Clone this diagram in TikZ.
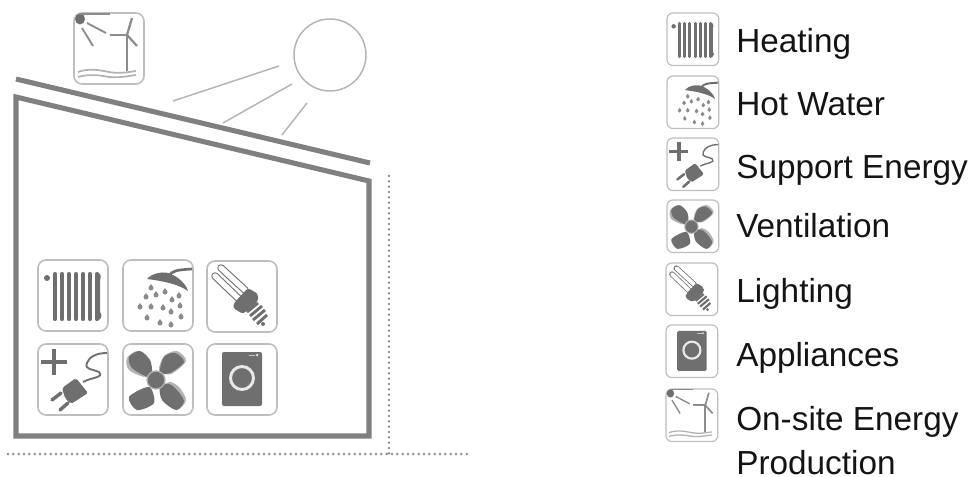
\documentclass[tikz,border=0pt]{standalone}
\usepackage{fontspec}
\setmainfont{Liberation Sans}
\definecolor{wall}{HTML}{808080}
\definecolor{ray}{HTML}{B4B4B4}
\definecolor{dots}{HTML}{8C8C8C}
\definecolor{frm}{HTML}{BEBEBE}
\definecolor{ink}{HTML}{6F6F6F}
\definecolor{inklight}{HTML}{B2B2B2}
\tikzset{
  wallline/.style={draw=wall,line width=3.8pt,line join=miter},
  rayline/.style={draw=ray,line width=1.1pt},
  dotline/.style={draw=dots,line width=2.1pt,line cap=round,dash pattern=on 0pt off 4pt},
  label/.style={anchor=base west,inner sep=0pt,text=black!92,font=\fontsize{25}{28}\selectfont},
  frame/.style={draw=frm,line width=\k*1.2pt,rounded corners=\k*6pt,fill=white},
  thick ink/.style={draw=ink,line width=\k*#1pt,line cap=butt},
  blade/.style={fill=ink,draw=none},
  ghost/.style={fill=inklight,draw=none},
}
\newcommand{\IconFrame}{\path[frame] (0,0) rectangle (70,71);}
\newcommand{\IconHeating}{%
  \IconFrame
  \fill[ink] (9,18) circle (3);
  \foreach \q in {17,24,31,38,45,52,59}{\draw[thick ink=3.1,line cap=round] (\q,14) -- (\q,59);}
  \fill[ink] (59,13) -- (61,13) .. controls (64,15) and (62,19) .. (62,21) -- (62,52) .. controls (64,54) and (64,58) .. (61,60) -- (59,60) -- cycle;
}
\newcommand{\IconShower}{%
  \IconFrame
  \draw[thick ink=2] (46,16) .. controls (49,11) and (52,10) .. (69,9);
  \fill[ink] (24,19) .. controls (29,13) and (42,10) .. (50,15) .. controls (56,18) and (63,24) .. (65,31) .. controls (55,24) and (40,21) .. (24,19) -- cycle;
  \foreach \a/\b in {28/28,42/32,56/36,23/37,33/35,49/40,17/47,28/47,40/48,57/46,48/52,24/58,37/63,58/57,48/65}{
    \fill[ink!80] (\a,\b) circle (2.5);
    \fill[ink!80] (\a-2.3,\b-0.8) -- (\a,\b-4) -- (\a+2.3,\b-0.8) -- cycle;}
}
\newcommand{\IconLamp}{%
  \IconFrame
  \draw[draw=ink,line width=\k*5.6pt,line cap=round] (14,7) -- (38,29);
  \draw[draw=white,line width=\k*4pt,line cap=round] (14,7) -- (38,29);
  \draw[draw=ink,line width=\k*5.6pt,line cap=round] (8,15) -- (31,37);
  \draw[draw=white,line width=\k*4pt,line cap=round] (8,15) -- (31,37);
  \fill[ink,rounded corners=\k*2pt] (27,42) -- (41,27) -- (51,33) -- (51,40) -- (36,53) -- (26,47) -- cycle;
  \foreach \a/\b/\c/\d in {40/51/51/42,43/55/55/45,46/59/58/49,50/63/60/54}{
    \draw[thick ink=2.2] (\a,\b) -- (\c,\d);}
  \fill[ink] (56,63) circle (2);
}
\newcommand{\IconPlug}{%
  \IconFrame
  \draw[thick ink=3.5] (3,18) -- (29,18);
  \draw[thick ink=3.5] (16,5) -- (16,31);
  \fill[ink,rounded corners=\k*1.5pt] (24,44) -- (38,34) -- (50,49) -- (33,60) -- (27,54) -- cycle;
  \draw[thick ink=2.6,line cap=round] (23,49) -- (14,56);
  \draw[thick ink=2.6,line cap=round] (30,59) -- (22,66);
  \draw[draw=ink,line width=\k*1.4pt] (45,38) .. controls (54,33) and (66,34) .. (61,28) .. controls (55,25) and (46,26) .. (49,19) .. controls (51,13) and (58,9) .. (69,9);
}
\newcommand{\IconFan}{%
  \IconFrame
  \fill[ghost] plot[smooth cycle] coordinates {(36,27) (41,12) (54,7) (63,17) (48,30)};
  \fill[ghost] plot[smooth cycle] coordinates {(39,43) (40,56) (54,66) (63,56) (56,43) (47,38)};
  \fill[ghost] plot[smooth cycle] coordinates {(24,33) (6,26) (4,14) (15,7) (27,18)};
  \fill[blade] plot[smooth cycle] coordinates {(25,33) (9,24) (6,13) (17,7) (27,16) (29,28)};
  \fill[blade] plot[smooth cycle] coordinates {(37,28) (41,13) (52,9) (61,18) (47,29)};
  \fill[blade] plot[smooth cycle] coordinates {(26,43) (6,53) (14,66) (31,59)};
  \fill[blade] plot[smooth cycle] coordinates {(37,43) (39,56) (53,66) (61,57) (53,45) (46,40)};
  \draw[draw=inklight,fill=ink,line width=\k*1pt] (33,36) circle (9);
}
\newcommand{\IconWasher}{%
  \IconFrame
  \fill[ink,rounded corners=\k*1.5pt] (15,8) rectangle (55,62);
  \draw[draw=white!85!ink,line width=\k*2.2pt] (35,34) circle (11.5);
  \fill[white!75!ink] (50,11) circle (1.5);
  \draw[draw=white!60!ink,line width=\k*.6pt] (42,11) -- (48,11);
}
\newcommand{\IconOnsite}{%
  \IconFrame
  \fill[ink] (6,6) ellipse (5 and 5.5);
  \draw[draw=ink!80,line width=\k*1.1pt] (5,1) -- (36,1);
  \draw[draw=ink!80,line width=\k*1.4pt] (13,10) -- (32,20);
  \draw[draw=ink!80,line width=\k*1.4pt] (8,15) -- (19,33);
  \draw[draw=ink!80,line width=\k*2pt] (53,22) -- (53,58);
  \draw[draw=ink!80,line width=\k*1.7pt] (53,22) -- (58,5);
  \draw[draw=ink!80,line width=\k*1.7pt] (53,22) -- (36,22);
  \draw[draw=ink!80,line width=\k*1.7pt] (53,22) -- (63,33);
  \draw[draw=inklight,line width=\k*1.3pt] (4,59) .. controls (15,55) and (25,57) .. (35,59) .. controls (45,61) and (55,59) .. (62,58);
  \draw[draw=inklight,line width=\k*1.3pt] (4,64) .. controls (15,61) and (25,62) .. (35,64) .. controls (45,65) and (55,63) .. (62,62);
}
\newcommand{\PlaceIcon}[5]{%
  \begin{scope}[shift={(#1,#2)},scale=#3,#4]\def\k{#3}#5\end{scope}}
\begin{document}
\begin{tikzpicture}[x=0.75pt,y=-0.75pt]
\useasboundingbox (0,0) rectangle (973,477);
% house
\coordinate (roofL) at (16,79);
\coordinate (roofR) at (370,163);
\coordinate (hTL) at (16,97);
\coordinate (hTR) at (369,181);
\coordinate (hBR) at (369,436);
\coordinate (hBL) at (16,436);
\draw[wallline] (roofL) -- (roofR);
\draw[wallline] (hTL) -- (hTR) -- (hBR) -- (hBL) -- cycle;
% sun
\node[draw=ray,line width=1.1pt,circle,minimum size=54pt,inner sep=0pt] (sun) at (330,55) {};
\coordinate (r1a) at (279,66); \coordinate (r1b) at (173,101);
\coordinate (r2a) at (292,84); \coordinate (r2b) at (223,123);
\coordinate (r3a) at (307,103); \coordinate (r3b) at (282,135);
\draw[rayline] (r1a) -- (r1b);
\draw[rayline] (r2a) -- (r2b);
\draw[rayline] (r3a) -- (r3b);
% ground
\coordinate (gL) at (8,454); \coordinate (gR) at (467,454);
\coordinate (vT) at (389,176); \coordinate (vB) at (389,454);
\draw[dotline] (gL) -- (gR);
\draw[dotline] (vT) -- (vB);
% icons in the house
\PlaceIcon{74}{13}{1}{}{\IconOnsite}
\PlaceIcon{38}{260}{1}{}{\IconHeating}
\PlaceIcon{123}{260}{1}{}{\IconShower}
\PlaceIcon{207}{261}{1}{}{\IconLamp}
\PlaceIcon{38}{344}{1}{}{\IconPlug}
\PlaceIcon{123}{344}{1}{}{\IconFan}
\PlaceIcon{207}{344}{1}{}{\IconWasher}
% legend
\PlaceIcon{667}{13}{.74}{}{\IconHeating}
\PlaceIcon{667}{76}{.74}{}{\IconShower}
\PlaceIcon{667}{138}{.74}{}{\IconPlug}
\PlaceIcon{667}{200}{.74}{}{\IconFan}
\PlaceIcon{666}{263}{.74}{}{\IconLamp}
\PlaceIcon{666}{325}{.74}{}{\IconWasher}
\PlaceIcon{666}{389}{.74}{}{\IconOnsite}
\node[label] (t1) at (736,53) {Heating};
\node[label] (t2) at (736,116) {Hot Water};
\node[label] (t3) at (736,179) {Support Energy};
\node[label] (t4) at (736,238) {Ventilation};
\node[label] (t5) at (736,302) {Lighting};
\node[label] (t6) at (736,366) {Appliances};
\node[label] (t7) at (736,430) {On-site Energy};
\node[label] (t8) at (736,474) {Production};
\end{tikzpicture}
\end{document}
